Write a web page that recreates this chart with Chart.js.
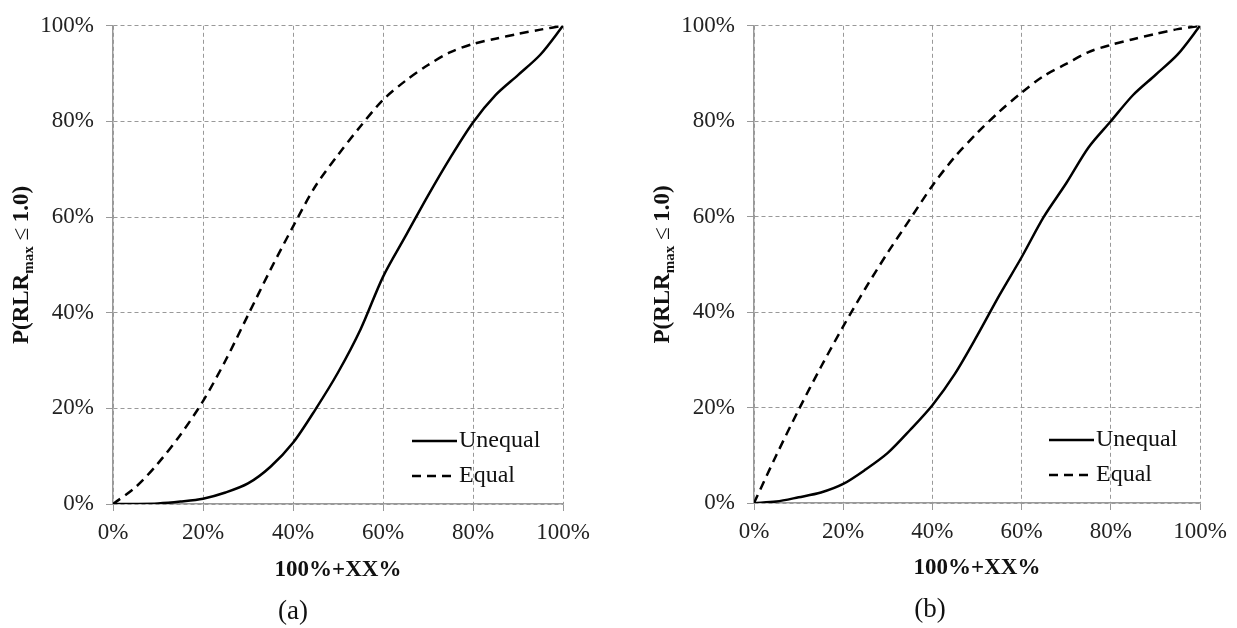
<!DOCTYPE html>
<html>
<head>
<meta charset="utf-8">
<script src="https://cdn.jsdelivr.net/npm/chart.js@4"></script>
<style>
  body { margin: 0; background: #fff; width: 1237px; height: 628px; overflow: hidden; position: relative; }
  .box { position: absolute; top: 0; height: 628px; }
  .cap { position: absolute; font: 27px "Liberation Serif", serif; color: #111; transform: translate(-50%, -50%); }
</style>
</head>
<body>
<div class="box" style="left:0;width:618px"><canvas id="chartA"></canvas></div>
<div class="box" style="left:620px;width:617px"><canvas id="chartB"></canvas></div>
<div class="cap" style="left:293px;top:610px">(a)</div>
<div class="cap" style="left:930px;top:608px">(b)</div>
<script>
// x positions (100%+XX%), same for both panels
const xs = [0, 5, 10, 15, 20, 25, 30, 35, 40, 45, 50, 55, 60, 65, 70, 75, 80, 85, 90, 95, 100];
const seriesNames = ['Unequal', 'Equal'];
const tickValues = [0, 20, 40, 60, 80, 100];

// panel (a)
const unequalA = [0, 0, 0.1, 0.5, 1.1, 2.4, 4.3, 7.8, 12.8, 19.8, 27.5, 36.5, 47.5, 56, 64.5, 72.5, 79.8, 85.5, 89.7, 94, 100];
const equalA = [0, 3.5, 8.5, 14.5, 21.5, 30, 39.5, 49, 58, 66.5, 73, 79, 84.5, 88.5, 91.8, 94.5, 96.2, 97.3, 98.3, 99.2, 100];

// panel (b)
const unequalB = [0, 0.3, 1.2, 2.2, 4, 7, 10.5, 15.3, 20.5, 27, 35, 43.5, 51.5, 60, 67, 74.5, 80, 85.5, 89.7, 94, 100];
const equalB = [0, 10, 19.5, 28.5, 37, 45, 52.5, 59.5, 66.5, 72.5, 77.5, 82, 86, 89.5, 92, 94.5, 96, 97.2, 98.3, 99.3, 100];

const serif = '"Liberation Serif", "Times New Roman", serif';

// y axis title with the "max" subscript
const yTitlePlugin = {
  id: 'yTitle',
  afterDraw(chart, args, opts) {
    const ctx = chart.ctx;
    const a = chart.chartArea;
    const parts = [
      { t: 'P(RLR', f: 'bold 23px ' + serif, dy: 0 },
      { t: 'max', f: 'bold 15px ' + serif, dy: 7 },
      { t: ' ≤ ', f: '23px ' + serif, dy: 0 },
      { t: '1.0)', f: 'bold 23px ' + serif, dy: 0 }
    ];
    ctx.save();
    let total = 0;
    parts.forEach(p => { ctx.font = p.f; p.w = ctx.measureText(p.t).width; total += p.w; });
    ctx.translate(opts.x, (a.top + a.bottom) / 2);
    ctx.rotate(-Math.PI / 2);
    ctx.fillStyle = '#111';
    ctx.textBaseline = 'middle';
    let x = -total / 2;
    parts.forEach(p => { ctx.font = p.f; ctx.fillText(p.t, x, p.dy); x += p.w; });
    ctx.restore();
  }
};

// legend sitting inside the plot, lower right
const innerLegend = {
  id: 'innerLegend',
  afterDraw(chart, args, opts) {
    const ctx = chart.ctx;
    const a = chart.chartArea;
    ctx.save();
    chart.data.datasets.forEach((ds, i) => {
      const y = a.bottom - opts.rows[i];
      ctx.strokeStyle = '#000';
      ctx.lineWidth = 2.5;
      ctx.setLineDash(ds.borderDash || []);
      ctx.beginPath();
      ctx.moveTo(a.right - opts.lineFrom, y);
      ctx.lineTo(a.right - opts.lineTo, y);
      ctx.stroke();
      ctx.setLineDash([]);
      ctx.font = '24px ' + serif;
      ctx.fillStyle = '#111';
      ctx.textBaseline = 'middle';
      ctx.fillText(ds.label, a.right - opts.lineTo + 2, y);
    });
    ctx.restore();
  }
};

function makeChart(id, unequal, equal, lay) {
  const ctx = document.getElementById(id).getContext('2d');
  return new Chart(ctx, {
    type: 'line',
    data: {
      datasets: [{
        label: seriesNames[0],
        data: xs.map((x, i) => ({ x: x, y: unequal[i] })),
        borderColor: '#000',
        borderWidth: 2.5,
        pointRadius: 0,
        tension: 0.3
      }, {
        label: seriesNames[1],
        data: xs.map((x, i) => ({ x: x, y: equal[i] })),
        borderColor: '#000',
        borderWidth: 2.5,
        borderDash: [9, 6],
        pointRadius: 0,
        tension: 0.3
      }]
    },
    options: {
      responsive: true,
      maintainAspectRatio: false,
      animation: false,
      layout: { padding: { left: 0, top: lay.top, right: lay.right, bottom: lay.bottom } },
      plugins: {
        legend: { display: false },
        tooltip: { enabled: false },
        yTitle: { x: lay.titleX },
        innerLegend: { rows: [63, 28], lineFrom: 151, lineTo: 106 }
      },
      scales: {
        x: {
          type: 'linear',
          min: 0, max: 100,
          afterBuildTicks: s => { s.ticks = tickValues.map(v => ({ value: v })); },
          ticks: {
            callback: v => v + '%',
            font: { family: serif, size: 23 },
            color: '#222',
            padding: 8,
            maxRotation: 0
          },
          grid: { color: '#999', lineWidth: 1, tickLength: 7, tickColor: '#999', tickBorderDash: [] },
          border: { color: '#999', width: 1.5, dash: [4, 3] },
          title: {
            display: true,
            text: '100%+XX%',
            font: { family: serif, size: 23, weight: 'bold' },
            color: '#111'
          },
          afterFit: s => { s.height = lay.xHeight; }
        },
        y: {
          min: 0, max: 100,
          afterBuildTicks: s => { s.ticks = tickValues.map(v => ({ value: v })); },
          ticks: {
            callback: v => v + '%',
            font: { family: serif, size: 23 },
            color: '#222',
            padding: 12
          },
          grid: { color: '#999', lineWidth: 1, tickLength: 7, tickColor: '#999', tickBorderDash: [] },
          border: { color: '#999', width: 1.5, dash: [4, 3] },
          afterFit: s => { s.width = lay.yWidth; }
        }
      }
    },
    plugins: [yTitlePlugin, innerLegend]
  });
}

makeChart('chartA', unequalA, equalA, { top: 15, right: 55, bottom: 40, xHeight: 84, yWidth: 113, titleX: 22 });
makeChart('chartB', unequalB, equalB, { top: 15, right: 37, bottom: 42, xHeight: 83, yWidth: 134, titleX: 43 });
</script>
</body>
</html>
